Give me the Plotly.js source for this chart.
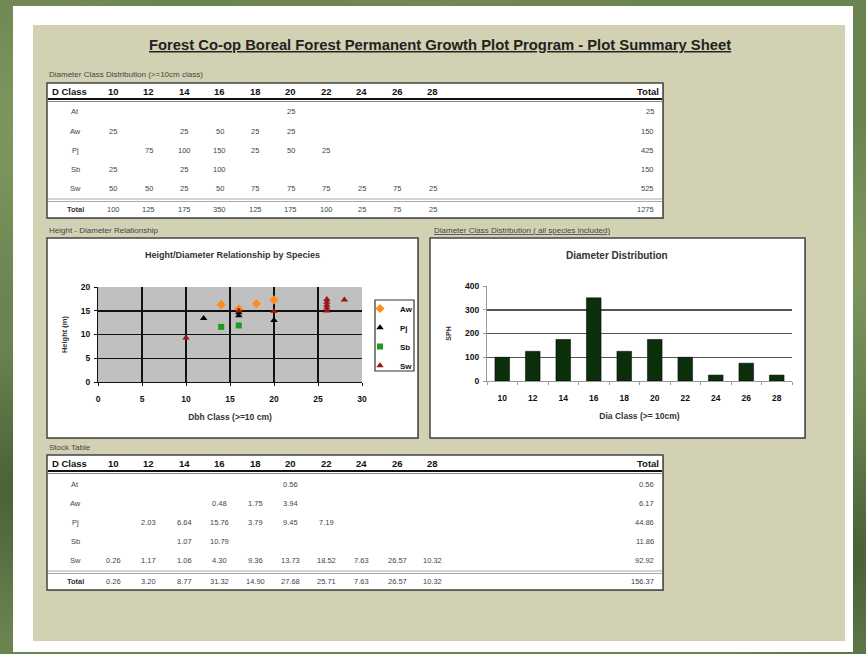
<!DOCTYPE html>
<html><head><meta charset="utf-8">
<script src="https://cdn.plot.ly/plotly-3.0.1.min.js"></script>
<style>
html,body{margin:0;padding:0;width:866px;height:654px;overflow:hidden;
background-color:#6a8450;
background-image:
 radial-gradient(circle at 5% 20%, rgba(150,170,110,0.55), rgba(0,0,0,0) 18%),
 radial-gradient(circle at 97% 40%, rgba(150,170,110,0.5), rgba(0,0,0,0) 15%),
 radial-gradient(circle at 3% 75%, rgba(50,70,35,0.6), rgba(0,0,0,0) 15%),
 radial-gradient(circle at 98% 85%, rgba(50,70,35,0.6), rgba(0,0,0,0) 15%),
 radial-gradient(circle at 50% 0%, rgba(120,140,90,0.5), rgba(0,0,0,0) 30%);}
#chart{width:866px;height:654px}
</style></head><body><div id="chart"></div>
<script>
// ---------- data ----------
const dClasses = ['10','12','14','16','18','20','22','24','26','28'];
const speciesCodes = ['At','Aw','Pj','Sb','Sw'];

// Diameter class distribution (SPH)
const sphAt = ['','','','','','25','','','',''];
const sphAw = ['25','','25','50','25','25','','','',''];
const sphPj = ['','75','100','150','25','50','25','','',''];
const sphSb = ['25','','25','100','','','','','',''];
const sphSw = ['50','50','25','50','75','75','75','25','75','25'];
const sphTotalLabels = ['100','125','175','350','125','175','100','25','75','25'];
const sphRowTotals = ['25','150','425','150','525'];
const sphGrandTotal = '1275';

// Bar chart values (all species)
const sphTotals = [100,125,175,350,125,175,100,25,75,25];

// Stock table
const stockAt = ['','','','','','0.56','','','',''];
const stockAw = ['','','','0.48','1.75','3.94','','','',''];
const stockPj = ['','2.03','6.64','15.76','3.79','9.45','7.19','','',''];
const stockSb = ['','','1.07','10.79','','','','','',''];
const stockSw = ['0.26','1.17','1.06','4.30','9.36','13.73','18.52','7.63','26.57','10.32'];
const stockTotalLabels = ['0.26','3.20','8.77','31.32','14.90','27.68','25.71','7.63','26.57','10.32'];
const stockRowTotals = ['0.56','6.17','44.86','11.86','92.92'];
const stockGrandTotal = '156.37';

// Height / diameter scatter
const awDbh = [14,16,18,20];           const awHt = [16.3,15.4,16.5,17.3];
const pjDbh = [12,16,16,20];           const pjHt = [13.4,14.6,14.0,13.0];
const sbDbh = [14,16];                 const sbHt = [11.6,11.9];
const swDbh = [10,16,20,26,26,26,26,26,28]; const swHt = [9.3,15.0,14.9,15.0,15.6,16.2,16.8,17.4,17.3];

// ---------- layout helpers ----------
const W = 866, H = 654;
const X = p => p / W;
const Y = p => 1 - p / H;
const FONT = 'Liberation Sans, Arial, sans-serif';
const shapes = [];
const annotations = [];
function rect(x0,y0,x1,y1,fill,lc,lw){
  shapes.push({type:'rect',xref:'paper',yref:'paper',layer:'below',
    x0:X(x0),x1:X(x1),y0:Y(y1),y1:Y(y0),fillcolor:fill,
    line:{color:lc||'rgba(0,0,0,0)',width:lw||0}});
}
function hline(x0,x1,y,color,width){
  shapes.push({type:'line',xref:'paper',yref:'paper',layer:'below',
    x0:X(x0),x1:X(x1),y0:Y(y),y1:Y(y),line:{color:color,width:width}});
}
function txt(x,y,text,size,opt){
  opt = opt||{};
  annotations.push({xref:'paper',yref:'paper',x:X(x),y:Y(y),text:text,showarrow:false,
    xanchor:opt.xa||'center',yanchor:'middle',
    font:{family:FONT,size:size,color:opt.color||'#111',weight:opt.bold?'bold':'normal'}});
}

// page
rect(13,6,853,652,'#ffffff');
rect(33,25,845,641,'#d3d1b3');

// title
txt(440,45,'<u>Forest Co-op Boreal Forest Permanent Growth Plot Program - Plot Summary Sheet</u>',14.8,{bold:true,color:'#222'});

// table builder
const colX = dClasses.map((d,i)=>113 + i*35.5);
function buildTable(label, top, rows, totals, rowTotals, grand){
  txt(47, top-8, label, 8, {xa:'left',color:'#444'});
  const bottom = top + 135;
  rect(48,top+1,664,bottom+1,'#9a9a8a');      // soft shadow
  rect(47,top,663,bottom,'#ffffff','#444',1.5);
  hline(48,662,top+16,'#111',2);
  hline(48,662,top+18.5,'#888',1);
  hline(48,662,top+116,'#aaa',1.2);
  hline(48,662,top+118.5,'#aaa',1.2);
  txt(50, top+8, 'D Class', 9.5, {xa:'left',bold:true});
  dClasses.forEach((d,i)=>txt(colX[i], top+8, d, 9.5, {bold:true}));
  txt(661, top+8, 'Total', 9.5, {xa:'right',bold:true});
  rows.forEach((r,ri)=>{
    const y = top + 29 + ri*19.2;
    txt(75, y, speciesCodes[ri], 7.5, {color:'#444'});
    r.forEach((v,ci)=>{ if(v!=='') txt(colX[ci], y, v, 7.5, {color:'#444'}); });
    txt(656, y, rowTotals[ri], 7.5, {xa:'right',color:'#444'});
  });
  const ty = top + 126;
  txt(75, ty, 'Total', 7.5, {bold:true,color:'#333'});
  totals.forEach((v,ci)=>txt(colX[ci], ty, v, 7.5, {color:'#444'}));
  txt(656, ty, grand, 7.5, {xa:'right',color:'#444'});
}
buildTable('Diameter Class Distribution (>=10cm class)', 83,
  [sphAt,sphAw,sphPj,sphSb,sphSw], sphTotalLabels, sphRowTotals, sphGrandTotal);
buildTable('Stock Table', 455,
  [stockAt,stockAw,stockPj,stockSb,stockSw], stockTotalLabels, stockRowTotals, stockGrandTotal);

// chart boxes
txt(47,230,'Height - Diameter Relationship',8,{xa:'left',color:'#444'});
rect(48,239,419,439,'#9a9a8a');
rect(47,238,418,438,'#ffffff','#444',1.5);
txt(432,230,'<u>Diameter Class Distribution ( all species included)</u>',8,{xa:'left',color:'#444'});
rect(431,239,806,439,'#9a9a8a');
rect(430,238,805,438,'#ffffff','#444',1.5);
// scatter plot area fill
rect(98,287,362,382,'#c0c0c0');
// legend frame
rect(375,300,414,371,'#ffffff','#333',1.2);

txt(232,255,'Height/Diameter Relationship by Species',9,{bold:true,color:'#333'});
txt(617,256,'Diameter Distribution',10,{bold:true,color:'#333'});

const tickFont = {family:FONT,size:8.5,color:'#111',weight:'bold'};
const titleFont = {family:FONT,size:8.5,color:'#333',weight:'bold'};
const data = [
  {type:'scatter',mode:'markers',name:'Aw',x:awDbh,y:awHt,xaxis:'x',yaxis:'y',
   marker:{symbol:'diamond',size:7,color:'#ff8c1a'}},
  {type:'scatter',mode:'markers',name:'Pj',x:pjDbh,y:pjHt,xaxis:'x',yaxis:'y',
   marker:{symbol:'triangle-up',size:6.5,color:'#000000'}},
  {type:'scatter',mode:'markers',name:'Sb',x:sbDbh,y:sbHt,xaxis:'x',yaxis:'y',
   marker:{symbol:'square',size:6,color:'#1e9a1e'}},
  {type:'scatter',mode:'markers',name:'Sw',x:swDbh,y:swHt,xaxis:'x',yaxis:'y',
   marker:{symbol:'triangle-up',size:6.5,color:'#9a1414'}},
  {type:'bar',name:'SPH',x:dClasses,y:sphTotals,xaxis:'x2',yaxis:'y2',showlegend:false,
   marker:{color:'#0b2e0b',line:{color:'#000',width:0.5}}}
];

const layout = {
  width:W,height:H,margin:{l:0,r:0,t:0,b:0},
  paper_bgcolor:'rgba(0,0,0,0)',plot_bgcolor:'rgba(0,0,0,0)',
  font:{family:FONT},
  showlegend:true,
  legend:{x:X(360),y:Y(294),xanchor:'left',yanchor:'top',bgcolor:'rgba(0,0,0,0)',
    borderwidth:0,font:{family:FONT,size:8,color:'#111',weight:'bold'},
    itemwidth:30,tracegroupgap:0},
  bargap:0.52,
  xaxis:{domain:[X(98),X(362)],anchor:'y',range:[0,30],dtick:5,tick0:0,
    showgrid:true,gridcolor:'#111',gridwidth:1.5,zeroline:false,
    showline:true,linecolor:'#111',linewidth:1,ticks:'outside',ticklen:3,tickcolor:'#111',
    ticklabelstandoff:6,tickfont:tickFont,fixedrange:true,
    title:{text:'Dbh Class (>=10 cm)',font:titleFont,standoff:10}},
  yaxis:{domain:[Y(382),Y(287)],anchor:'x',range:[0,20],dtick:5,tick0:0,
    showgrid:true,gridcolor:'#111',gridwidth:1.5,zeroline:false,
    showline:true,linecolor:'#111',linewidth:1,ticks:'outside',ticklen:3,tickcolor:'#111',
    ticklabelstandoff:2,tickfont:tickFont,fixedrange:true,
    title:{text:'Height (m)',font:{family:FONT,size:7.5,color:'#333',weight:'bold'},standoff:12}},
  xaxis2:{domain:[X(487),X(792)],anchor:'y2',type:'category',tickson:'boundaries',
    showgrid:false,zeroline:false,showline:true,linecolor:'#999',linewidth:1,
    ticks:'outside',ticklen:3,tickcolor:'#999',ticklabelstandoff:9,tickfont:tickFont,fixedrange:true,
    title:{text:'Dia Class (>= 10cm)',font:titleFont,standoff:10}},
  yaxis2:{domain:[Y(381),Y(286)],anchor:'x2',range:[0,400],dtick:100,tick0:0,
    showgrid:true,gridcolor:'#555',gridwidth:1.5,zeroline:false,
    showline:true,linecolor:'#999',linewidth:1,ticks:'outside',ticklen:3,tickcolor:'#999',
    ticklabelstandoff:2,tickfont:tickFont,fixedrange:true,
    title:{text:'SPH',font:{family:FONT,size:7,color:'#333',weight:'bold'},standoff:12}},
  shapes:shapes,
  annotations:annotations
};
Plotly.newPlot('chart',data,layout,{staticPlot:true,displayModeBar:false});
</script></body></html>
